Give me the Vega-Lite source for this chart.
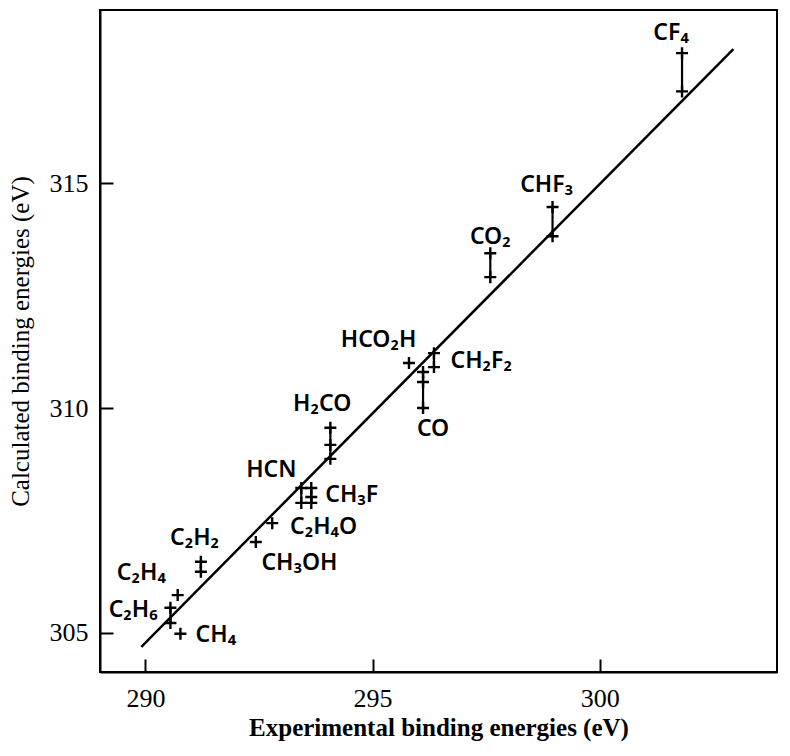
{
  "$schema": "https://vega.github.io/schema/vega-lite/v6.json",
  "width": 677,
  "height": 662,
  "autosize": {"type": "none"},
  "padding": {"left": 100, "top": 10, "right": 13, "bottom": 84},
  "background": "white",
  "config": {
    "view": {"stroke": "black", "strokeWidth": 2},
    "axis": {
      "grid": false,
      "domainColor": "black",
      "domainWidth": 2,
      "tickColor": "black",
      "tickWidth": 2,
      "tickSize": -13,
      "labelColor": "black",
      "titleColor": "black",
      "labelFont": "Liberation Serif",
      "labelFontSize": 26,
      "titleFont": "Liberation Serif",
      "titleFontSize": 25,
      "titleFontWeight": "normal"
    }
  },
  "datasets": {
    "fit": [
      {"E": 289.91, "C": 304.69},
      {"E": 302.94, "C": 317.98}
    ],
    "bars": [
      {"mol": "CF4", "E": 301.81, "lo": 317.04, "hi": 317.89},
      {"mol": "CHF3", "E": 298.96, "lo": 313.82, "hi": 314.47},
      {"mol": "CO2", "E": 297.59, "lo": 312.91, "hi": 313.44},
      {"mol": "CH2F2", "E": 296.35, "lo": 310.91, "hi": 311.22},
      {"mol": "CO", "E": 296.11, "lo": 310.0, "hi": 310.8},
      {"mol": "H2CO", "E": 294.07, "lo": 308.87, "hi": 309.56},
      {"mol": "HCN", "E": 293.43, "lo": 307.89, "hi": 308.22},
      {"mol": "CH3F", "E": 293.65, "lo": 307.89, "hi": 308.22},
      {"mol": "C2H2", "E": 291.22, "lo": 306.36, "hi": 306.58},
      {"mol": "C2H6", "E": 290.55, "lo": 305.22, "hi": 305.56}
    ],
    "markers": [
      {"mol": "CF4", "E": 301.81, "C": 317.89},
      {"mol": "CF4", "E": 301.81, "C": 317.04},
      {"mol": "CHF3", "E": 298.96, "C": 314.47},
      {"mol": "CHF3", "E": 298.96, "C": 313.82},
      {"mol": "CO2", "E": 297.59, "C": 313.44},
      {"mol": "CO2", "E": 297.59, "C": 312.91},
      {"mol": "HCO2H", "E": 295.8, "C": 311.0},
      {"mol": "CH2F2", "E": 296.35, "C": 311.22},
      {"mol": "CH2F2", "E": 296.35, "C": 310.91},
      {"mol": "CO", "E": 296.11, "C": 310.8},
      {"mol": "CO", "E": 296.11, "C": 310.58},
      {"mol": "CO", "E": 296.11, "C": 310.0},
      {"mol": "H2CO", "E": 294.07, "C": 309.56},
      {"mol": "H2CO", "E": 294.07, "C": 309.18},
      {"mol": "H2CO", "E": 294.07, "C": 308.87},
      {"mol": "HCN", "E": 293.43, "C": 308.22},
      {"mol": "HCN", "E": 293.43, "C": 307.89},
      {"mol": "CH3F", "E": 293.65, "C": 308.22},
      {"mol": "CH3F", "E": 293.65, "C": 308.02},
      {"mol": "CH3F", "E": 293.65, "C": 307.89},
      {"mol": "C2H4O", "E": 292.79, "C": 307.44},
      {"mol": "CH3OH", "E": 292.43, "C": 307.02},
      {"mol": "C2H2", "E": 291.22, "C": 306.58},
      {"mol": "C2H2", "E": 291.22, "C": 306.36},
      {"mol": "C2H4", "E": 290.71, "C": 305.84},
      {"mol": "C2H6", "E": 290.55, "C": 305.56},
      {"mol": "C2H6", "E": 290.55, "C": 305.22},
      {"mol": "CH4", "E": 290.77, "C": 304.98}
    ],
    "labels": [
      {"label": "CF₄", "E": 301.57, "C": 318.33},
      {"label": "CHF₃", "E": 298.83, "C": 314.96},
      {"label": "CO₂", "E": 297.59, "C": 313.8},
      {"label": "HCO₂H", "E": 295.13, "C": 311.51},
      {"label": "CH₂F₂", "E": 297.39, "C": 311.04},
      {"label": "CO", "E": 296.33, "C": 309.53},
      {"label": "H₂CO", "E": 293.89, "C": 310.09},
      {"label": "HCN", "E": 292.77, "C": 308.62},
      {"label": "CH₃F", "E": 294.54, "C": 308.07},
      {"label": "C₂H₄O", "E": 293.92, "C": 307.36},
      {"label": "CH₃OH", "E": 293.39, "C": 306.56},
      {"label": "C₂H₂", "E": 291.08, "C": 307.11},
      {"label": "C₂H₄", "E": 289.91, "C": 306.33},
      {"label": "C₂H₆", "E": 289.73, "C": 305.51},
      {"label": "CH₄", "E": 291.55, "C": 304.96}
    ]
  },
  "encoding": {
    "x": {
      "field": "E", "type": "quantitative",
      "scale": {"domain": [289, 303.9], "nice": false, "zero": false},
      "axis": {"values": [290, 295, 300], "title": "Experimental binding energies (eV)", "labelPadding": 26, "titlePadding": 4, "titleFontWeight": "bold"}
    },
    "y": {
      "field": "C", "type": "quantitative",
      "scale": {"domain": [304.13, 318.85], "nice": false, "zero": false},
      "axis": {"values": [305, 310, 315], "title": "Calculated binding energies (eV)", "labelPadding": 25, "titlePadding": 16}
    }
  },
  "layer": [
    {
      "data": {"name": "fit"},
      "mark": {"type": "line", "color": "black", "strokeWidth": 2.5}
    },
    {
      "data": {"name": "bars"},
      "mark": {"type": "rule", "color": "black", "strokeWidth": 2.2},
      "encoding": {
        "y": {"field": "lo", "type": "quantitative"},
        "y2": {"field": "hi"}
      }
    },
    {
      "data": {"name": "markers"},
      "mark": {"type": "point", "shape": "M-1,0H1M0,-1V1", "filled": false, "stroke": "black", "strokeWidth": 2.4, "size": 144, "opacity": 1}
    },
    {
      "data": {"name": "labels"},
      "mark": {"type": "text", "font": "Noto Sans", "fontSize": 23, "fontWeight": 600, "color": "black", "align": "center", "baseline": "middle"},
      "encoding": {"text": {"field": "label"}}
    }
  ]
}
